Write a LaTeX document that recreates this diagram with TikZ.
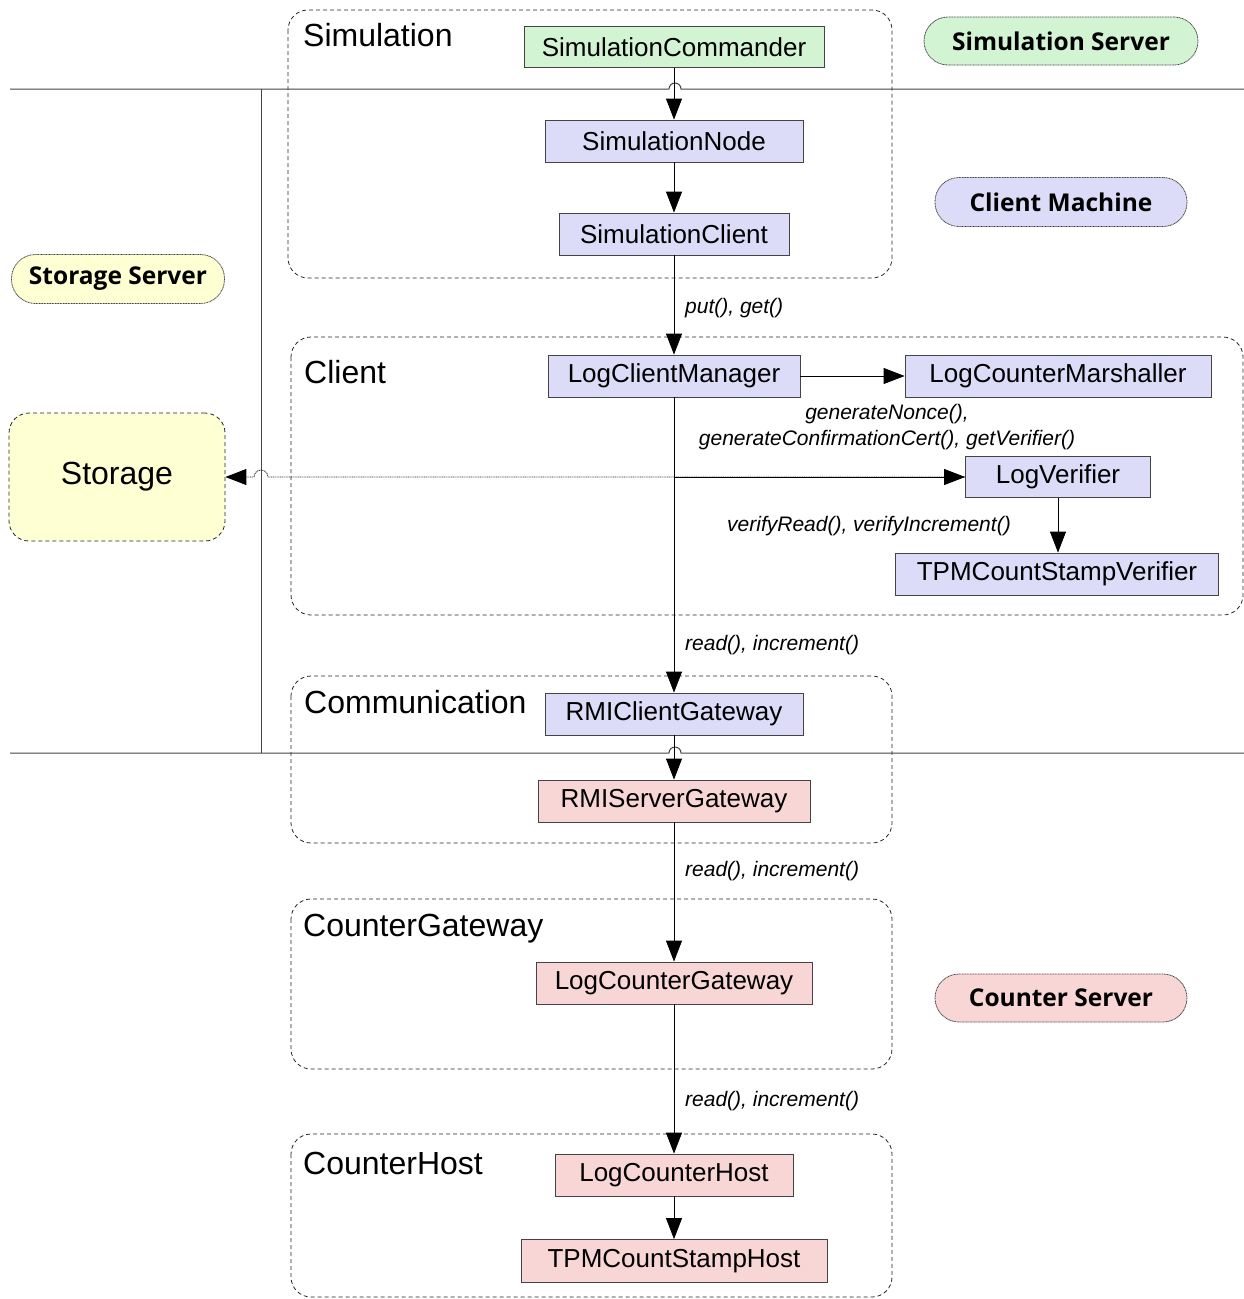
\documentclass[tikz,border=0pt]{standalone}
\usepackage{fontspec}
\setmainfont{Liberation Sans}
\newfontfamily\pillfont{Open Sans}
\usetikzlibrary{arrows.meta,calc}
\definecolor{gfill}{HTML}{D2F4D2}
\definecolor{bfill}{HTML}{DCDCF8}
\definecolor{rfill}{HTML}{F8D6D6}
\definecolor{yfill}{HTML}{FFFFD4}
\definecolor{edge}{HTML}{444444}
\begin{document}
\begin{tikzpicture}[x=1pt,y=1pt,
  comp/.style={draw=edge, line width=0.8pt, inner sep=0pt, font=\fontsize{26}{30}\selectfont},
  grp/.style={draw=black!85, line width=0.8pt, dash pattern=on 4pt off 3pt, rounded corners=20pt},
  glabel/.style={anchor=west, inner sep=0pt, font=\fontsize{32}{36}\selectfont},
  elabel/.style={inner sep=0pt, align=center, font=\fontsize{21}{26}\selectfont\itshape},
  pill/.style={draw=edge, line width=0.8pt, dash pattern=on 1pt off 0.6pt, rounded corners=24pt, inner sep=0pt, font=\pillfont\bfseries\fontsize{24.5}{28}\selectfont},
  conn/.style={draw=black, line width=0.8pt, -{Triangle[length=21pt,width=16pt]}},
  dotconn/.style={draw=black!85, line width=0.9pt, dash pattern=on 1pt off 0.8pt, -{Triangle[length=21pt,width=16pt,color=black,fill=black]}},
  sep/.style={draw=edge, line width=1pt}
]
\useasboundingbox (0,0) rectangle (1244,-1299);

% separators
\draw[sep] (10,-89) -- (669,-89) arc[start angle=180,end angle=0,radius=6] -- (1244,-89);
\draw[sep] (10,-753) -- (669,-753) arc[start angle=180,end angle=0,radius=6] -- (1244,-753);
\draw[sep] (261,-89) -- (261,-753);

% groups
\draw[grp] (288,-10) rectangle (892,-278);
\draw[grp] (291,-337) rectangle (1243,-615);
\draw[grp] (291,-676) rectangle (892,-843);
\draw[grp] (291,-899) rectangle (892,-1069);
\draw[grp] (291,-1134) rectangle (892,-1297);

\node[glabel] (lsim) at (303,-35) {Simulation};
\node[glabel] (lcli) at (304,-372) {Client};
\node[glabel] (lcom) at (304,-702) {Communication};
\node[glabel] (lcg) at (303,-929) {CounterGateway};
\node[glabel] (lch) at (303,-1163) {CounterHost};

% pills
\node[pill, fill=gfill, minimum width=274pt, minimum height=48pt] (pss) at (1061,-41) {Simulation Server};
\node[pill, fill=bfill, minimum width=252pt, minimum height=49pt] (pcm) at (1061,-202) {Client Machine};
\node[pill, fill=yfill, minimum width=213pt, minimum height=49pt] (pst) at (118,-279) {Storage Server};
\node[pill, fill=rfill, minimum width=252pt, minimum height=48pt] (pcs) at (1061,-998) {Counter Server};

% storage
\node[draw=black!85, line width=0.8pt, dash pattern=on 4pt off 3pt, rounded corners=20pt, fill=yfill,
      minimum width=216pt, minimum height=128pt, font=\fontsize{32}{36}\selectfont] (st) at (117,-477) {Storage};

% components
\node[comp, fill=gfill, minimum width=300pt, minimum height=41pt] (sc) at (674,-47) {SimulationCommander};
\node[comp, fill=bfill, minimum width=258pt, minimum height=42pt] (sn) at (674,-141) {SimulationNode};
\node[comp, fill=bfill, minimum width=230pt, minimum height=42pt] (scl) at (674,-234) {SimulationClient};
\node[comp, fill=bfill, minimum width=252pt, minimum height=42pt] (lcm) at (674,-376) {LogClientManager};
\node[comp, fill=bfill, minimum width=306pt, minimum height=42pt] (lcms) at (1058,-376) {LogCounterMarshaller};
\node[comp, fill=bfill, minimum width=185pt, minimum height=41pt] (lv) at (1058,-477) {LogVerifier};
\node[comp, fill=bfill, minimum width=323pt, minimum height=42pt] (tsv) at (1057,-574) {TPMCountStampVerifier};
\node[comp, fill=bfill, minimum width=258pt, minimum height=42pt] (rcg) at (674,-714) {RMIClientGateway};
\node[comp, fill=rfill, minimum width=272pt, minimum height=42pt] (rsg) at (674,-801) {RMIServerGateway};
\node[comp, fill=rfill, minimum width=276pt, minimum height=42pt] (lcgw) at (674,-983) {LogCounterGateway};
\node[comp, fill=rfill, minimum width=238pt, minimum height=42pt] (lch) at (674,-1175) {LogCounterHost};
\node[comp, fill=rfill, minimum width=306pt, minimum height=43pt] (tsh) at (674,-1261) {TPMCountStampHost};

% connectors
\draw[dotconn] (lv.west) -- (268,-477) arc[start angle=0,end angle=180,radius=7] -- (st.east);
\draw[conn] (sc) -- (sn);
\draw[conn] (sn) -- (scl);
\draw[conn] (scl) -- (lcm);
\draw[conn] (lcm) -- (lcms);
\draw[conn] (lcm.south) |- (lv.west);
\draw[conn] (lv.south) -- (lv.south |- tsv.north);
\draw[conn] (lcm) -- (rcg);
\draw[conn] (rcg) -- (rsg);
\draw[conn] (rsg) -- (lcgw);
\draw[conn] (lcgw) -- (lch);
\draw[conn] (lch) -- (tsh);

% edge labels
\node[elabel, anchor=west] (e1) at (685,-308) {put(), get()};
\node[elabel] (e2) at (887,-427) {generateNonce(),\\generateConfirmationCert(), getVerifier()};
\node[elabel] (e3) at (869,-526) {verifyRead(), verifyIncrement()};
\node[elabel, anchor=west] (e4) at (685,-645) {read(), increment()};
\node[elabel, anchor=west] (e5) at (685,-871) {read(), increment()};
\node[elabel, anchor=west] (e6) at (685,-1101) {read(), increment()};
\end{tikzpicture}
\end{document}
